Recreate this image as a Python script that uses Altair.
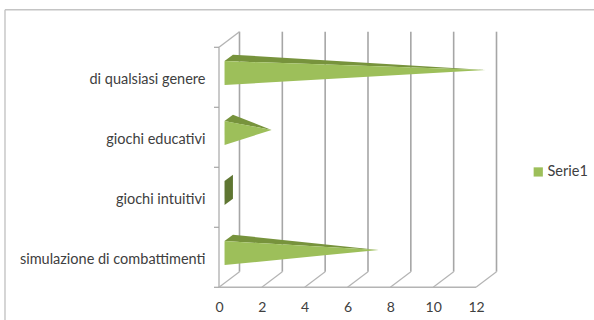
import altair as alt
import pandas as pd

# Categories listed from bottom to top, with the value of each pyramid
categories = ["simulazione di combattimenti", "giochi intuitivi", "giochi educativi", "di qualsiasi genere"]
values = [7, 0, 2, 12]
series_name = "Serie1"
x_ticks = [0, 2, 4, 6, 8, 10, 12]
band_edges = [0, 1, 2, 3, 4]

# Oblique projection of the third dimension, per unit of depth
DEPTH_X = 0.957
DEPTH_Y = 0.26
HALF_BAND = 0.2
FRONT, MIDDLE, BACK = 0.27, 0.475, 0.68

GRID = "#a6a6a6"
FLOOR = "#b4b4b4"
LIGHT = "#9dbf5a"
SHADE = "#77933c"
SIDE = "#5f7632"
TEXT = "#404040"


def project(value, level, depth):
    return value + depth * DEPTH_X, level + depth * DEPTH_Y


front_rows, top_rows, side_rows = [], [], []
for i, (cat, val) in enumerate(zip(categories, values)):
    mid = i + 0.5
    x0, low = project(0, mid - HALF_BAND, FRONT)
    _, high = project(0, mid + HALF_BAND, FRONT)
    xb, back_high = project(0, mid + HALF_BAND, BACK)
    _, back_low = project(0, mid - HALF_BAND, BACK)
    tip_x, tip_y = project(val, mid, MIDDLE)
    if val > 0:
        front_rows += [
            dict(cat=cat, px=x0, upper=high, lower=low, serie=series_name),
            dict(cat=cat, px=tip_x, upper=tip_y, lower=tip_y, serie=series_name),
        ]
        # Lower edge of the shaded top face, running straight from the front corner to the tip
        edge = high + (tip_y - high) * (xb - x0) / (tip_x - x0)
        top_rows += [
            dict(cat=cat, px=x0, upper=high, lower=high),
            dict(cat=cat, px=xb, upper=back_high, lower=edge),
            dict(cat=cat, px=tip_x, upper=tip_y, lower=tip_y),
        ]
    else:
        # An empty bar only shows its base
        side_rows += [
            dict(cat=cat, px=x0, upper=high, lower=low),
            dict(cat=cat, px=xb, upper=back_high, lower=back_low),
        ]

top_level = band_edges[-1]
wall_rows = [dict(a=t + DEPTH_X, b=t + DEPTH_X, c=DEPTH_Y, d=top_level + DEPTH_Y) for t in x_ticks]
floor_rows = [dict(a=t, b=t + DEPTH_X, c=0, d=DEPTH_Y) for t in x_ticks]
frame_rows = [
    dict(a=0, b=0, c=0, d=top_level),
    dict(a=0, b=x_ticks[-1], c=0, d=0),
    dict(a=0, b=DEPTH_X, c=top_level, d=top_level + DEPTH_Y),
]

x_scale = alt.Scale(domain=[0, x_ticks[-1] + DEPTH_X], nice=False, zero=False)
y_scale = alt.Scale(domain=[0, top_level + DEPTH_Y], nice=False, zero=False)

label_lookup = "{" + ",".join(f"'{i + 0.5}':'{c}'" for i, c in enumerate(categories)) + "}"
x_axis = alt.Axis(values=x_ticks, title=None, domain=False, grid=False, ticks=False, labelFlush=False,
                  labelFont="Lato", labelFontSize=14, labelColor=TEXT, labelPadding=13)
y_axis = alt.Axis(values=[i + 0.5 for i in range(len(categories))], title=None, domain=False,
                  grid=False, ticks=False, labelFont="Lato", labelFontSize=14.5, labelColor=TEXT,
                  labelPadding=14, labelOffset=2, labelLimit=400,
                  labelExpr=f"{label_lookup}[toString(datum.value)]")


def segments(rows, color, width):
    return alt.Chart(pd.DataFrame(rows)).mark_rule(color=color, strokeWidth=width).encode(
        x=alt.X("a:Q", scale=x_scale, title=None),
        x2="b:Q",
        y=alt.Y("c:Q", scale=y_scale, title=None),
        y2="d:Q",
    )


def faces(rows, color):
    return alt.Chart(pd.DataFrame(rows)).mark_area(color=color, orient="vertical").encode(
        x=alt.X("px:Q", scale=x_scale, title=None),
        y=alt.Y("upper:Q", scale=y_scale, title=None),
        y2="lower:Q",
        detail="cat:N",
    )


walls = segments(wall_rows, GRID, 1.6)
floor = segments(floor_rows, FLOOR, 1.2)
frame = segments(frame_rows, FLOOR, 1.4)

band_ticks = alt.Chart(pd.DataFrame({"c": band_edges})).mark_rule(color=GRID, strokeWidth=1.2).encode(
    x=alt.value(-5), x2=alt.value(0), y=alt.Y("c:Q", scale=y_scale, title=None)
)

# Invisible layer that carries the two real axes
axes = alt.Chart(pd.DataFrame({"a": [0], "c": [0.5]})).mark_point(opacity=0).encode(
    x=alt.X("a:Q", scale=x_scale, axis=x_axis),
    y=alt.Y("c:Q", scale=y_scale, axis=y_axis),
)

front = alt.Chart(pd.DataFrame(front_rows)).mark_area(orient="vertical").encode(
    x=alt.X("px:Q", scale=x_scale, title=None),
    y=alt.Y("upper:Q", scale=y_scale, title=None),
    y2="lower:Q",
    detail="cat:N",
    color=alt.Color(
        "serie:N",
        scale=alt.Scale(domain=[series_name], range=[LIGHT]),
        legend=alt.Legend(orient="none", legendX=312, legendY=133, title=None, symbolType="square",
                          symbolSize=85, symbolStrokeWidth=0, labelFont="Lato", labelFontSize=14.5,
                          labelColor=TEXT, labelOffset=2),
    ),
)

# Outer border of the chart area
border_top = alt.Chart(pd.DataFrame({"v": [0]})).mark_rule(color="#c4c4c4", strokeWidth=1.4).encode(
    x=alt.value(-214), x2=alt.value(375), y=alt.value(-22)
)
border_left = alt.Chart(pd.DataFrame({"v": [0]})).mark_rule(color="#c4c4c4", strokeWidth=1.4).encode(
    x=alt.value(-214), y=alt.value(-22), y2=alt.value(289)
)

chart = alt.layer(
    axes, border_top, border_left, walls, floor, frame, band_ticks,
    faces(top_rows, SHADE), faces(side_rows, SIDE), front,
).properties(
    width=277.5,
    height=255.6,
    padding={"left": 219, "top": 31.7, "right": 97.5, "bottom": 32.7},
    autosize=alt.AutoSizeParams(type="none"),
    background="white",
).configure_view(stroke=None)

chart.save("out.html", embed_options={"renderer": "svg", "actions": False})
